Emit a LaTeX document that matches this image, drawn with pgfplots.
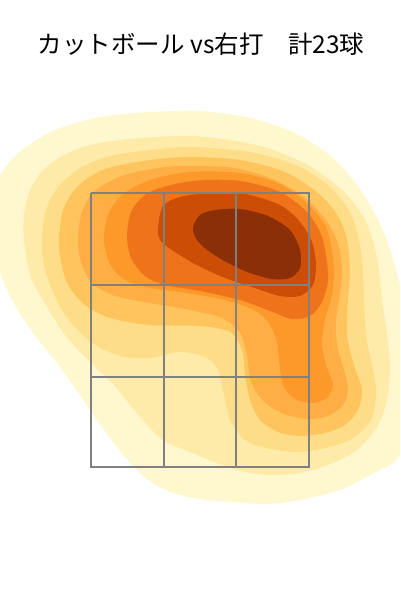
\documentclass[border=0pt]{standalone}
\usepackage{pgfplots}
\pgfplotsset{compat=1.18}
\usepackage{fontspec}
\newfontfamily\cjk{Noto Sans CJK JP}
\definecolor{c1}{HTML}{FFF8CE}
\definecolor{c2}{HTML}{FEEBAA}
\definecolor{c3}{HTML}{FEDD88}
\definecolor{c4}{HTML}{FEC55E}
\definecolor{c5}{HTML}{FEAE44}
\definecolor{c6}{HTML}{FD982B}
\definecolor{c7}{HTML}{EE731A}
\definecolor{c8}{HTML}{CC4D05}
\definecolor{c9}{HTML}{8A2F07}
\begin{document}
\begin{tikzpicture}
\begin{axis}[
  scale only axis, width=400pt, height=600pt,
  xmin=0, xmax=400, ymin=0, ymax=600, y dir=reverse,
  hide axis, clip=true,
]
% level 1
\addplot[fill=c1, draw=none, smooth cycle, tension=0.5] coordinates {
(-10,195) (5,168) (22,150) (55,130) (100,117) (150,112) (200,111) (250,118) (295,133) (333,158) (362,192) (383,230) (396,270) (406,310) (410,360) (410,420) (398,458) (372,474) (340,490) (300,500) (267,504) (233,502) (200,499) (170,492) (143,476) (117,447) (90,410) (60,367) (33,333) (12,300) (0,272) (-8,240)};
% level 2
\addplot[fill=c2, draw=none, smooth cycle, tension=0.5] coordinates {
(24,240) (30,275) (43,300) (65,335) (91,363) (115,386) (135,411) (163,440) (200,456) (233,469) (267,475) (300,473) (333,463) (357,450) (377,427) (387,400) (390,367) (387,333) (382,300) (379,270) (374,245) (364,218) (344,192) (310,166) (267,148) (230,140) (190,136) (140,138) (100,143) (70,152) (45,168) (30,190) (24,215)};
% level 3
\addplot[fill=c3, draw=none, smooth cycle, tension=0.5] coordinates {
(42,235) (46,210) (58,187) (80,168) (110,156) (150,150) (190,147) (250,152) (298,166) (330,187) (350,212) (359,240) (363,270) (364,300) (366,335) (372,365) (376,390) (372,418) (355,437) (330,447) (300,452) (270,449) (245,440) (230,420) (224,395) (218,370) (205,357) (180,352) (150,358) (120,356) (91,342) (65,315) (50,285) (43,260)};
% level 4
\addplot[fill=c4, draw=none, smooth cycle, tension=0.5] coordinates {
(59,240) (63,210) (78,186) (105,169) (150,160) (190,157) (240,160) (285,172) (318,193) (338,216) (347,240) (350,270) (348,300) (347,335) (354,365) (362,390) (358,410) (345,425) (325,433) (300,436) (278,432) (260,420) (250,400) (245,375) (242,350) (230,332) (200,326) (150,325) (110,318) (85,305) (68,285) (61,262)};
% level 5
\addplot[fill=c5, draw=none, smooth cycle, tension=0.5] coordinates {
(78,240) (82,212) (96,190) (125,175) (165,167) (190,166) (235,168) (275,180) (305,198) (326,220) (338,243) (342,268) (340,295) (336,320) (337,345) (344,370) (348,390) (343,405) (328,416) (310,419) (290,416) (272,408) (258,395) (250,378) (247,355) (240,333) (222,318) (190,310) (150,303) (115,296) (92,283) (81,262)};
% level 6
\addplot[fill=c6, draw=none, smooth cycle, tension=0.5] coordinates {
(104,240) (108,215) (122,195) (150,180) (190,172) (240,173) (280,184) (308,204) (325,225) (331,245) (334,270) (332,295) (325,320) (322,345) (327,368) (333,385) (327,398) (312,403) (295,399) (283,385) (279,360) (276,338) (265,318) (245,306) (215,298) (180,292) (150,288) (125,280) (110,264)};
% level 7
\addplot[fill=c7, draw=none, smooth cycle, tension=0.5] coordinates {
(127,235) (132,210) (148,193) (175,184) (205,180) (240,181) (278,191) (305,210) (320,232) (326,255) (328,280) (322,302) (310,316) (292,319) (270,311) (240,300) (200,291) (165,285) (145,276) (131,258)};
% level 8
\addplot[fill=c8, draw=none, smooth cycle, tension=0.5] coordinates {
(158,228) (163,206) (180,197) (210,193) (245,194) (280,205) (300,222) (312,242) (316,265) (313,285) (300,296) (280,296) (255,288) (225,278) (195,264) (172,250) (160,240)};
% level 9
\addplot[fill=c9, draw=none, smooth cycle, tension=0.5] coordinates {
(193,228) (200,215) (215,210) (240,209) (268,216) (290,230) (300,250) (300,268) (290,278) (272,279) (250,273) (230,264) (210,252) (197,240)};
% strike zone
\addplot[color=gray, line width=1.3pt] coordinates {(91,193) (309,193) (309,467) (91,467) (91,193)};
\addplot[color=gray, line width=1.3pt] coordinates {(164,193) (164,467)};
\addplot[color=gray, line width=1.3pt] coordinates {(236,193) (236,467)};
\addplot[color=gray, line width=1.3pt] coordinates {(91,285) (309,285)};
\addplot[color=gray, line width=1.3pt] coordinates {(91,377) (309,377)};
\node[font=\cjk\fontsize{24.5}{28}\selectfont, anchor=center] at (axis cs:201,44) {カットボール vs右打　計23球};
\coordinate (BL) at (rel axis cs:0,0);
\coordinate (TR) at (rel axis cs:1,1);
\end{axis}
\pgfresetboundingbox
\useasboundingbox (BL) rectangle (TR);
\end{tikzpicture}
\end{document}
